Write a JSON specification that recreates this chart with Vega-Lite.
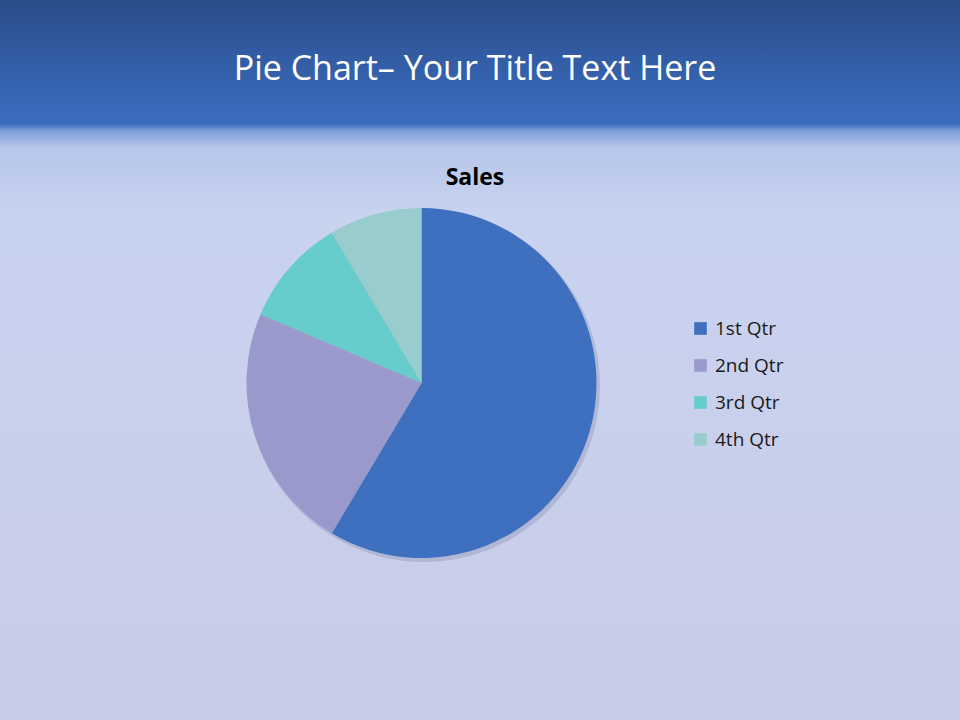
{
  "$schema": "https://vega.github.io/schema/vega-lite/v6.json",
  "width": 960,
  "height": 720,
  "autosize": "none",
  "padding": 0,
  "background": "#c8cde8",
  "title": {
    "text": "Pie Chart– Your Title Text Here",
    "subtitle": "Sales",
    "anchor": "middle",
    "orient": "top",
    "offset": -190,
    "dx": -5,
    "font": "Open Sans",
    "fontSize": 34,
    "fontWeight": "normal",
    "color": "#ffffff",
    "subtitleFont": "Open Sans",
    "subtitleFontSize": 23,
    "subtitleFontWeight": "bold",
    "subtitleColor": "#000000",
    "subtitlePadding": 80
  },
  "layer": [
    {
      "data": {"values": [{}]},
      "mark": {
        "type": "rect",
        "color": {
          "gradient": "linear",
          "x1": 0, "y1": 0, "x2": 0, "y2": 1,
          "stops": [
            {"offset": 0, "color": "#2a4d8a"},
            {"offset": 0.1, "color": "#3460aa"},
            {"offset": 0.172, "color": "#3c6cbf"},
            {"offset": 0.182, "color": "#7f9fd8"},
            {"offset": 0.205, "color": "#b6c6ea"},
            {"offset": 0.3, "color": "#c8d3f0"},
            {"offset": 0.6, "color": "#c9d0ec"},
            {"offset": 1, "color": "#c8cce6"}
          ]
        }
      },
      "encoding": {}
    },
    {
      "data": {
        "values": [
          {"Qtr": "1st Qtr", "Sales": 8.2},
          {"Qtr": "2nd Qtr", "Sales": 3.2},
          {"Qtr": "3rd Qtr", "Sales": 1.4},
          {"Qtr": "4th Qtr", "Sales": 1.2}
        ]
      },
      "layer": [
        {
          "mark": {"type": "arc", "x": 424, "y": 386, "radius": 176, "color": "#1a2a50", "opacity": 0.14},
          "encoding": {
            "theta": {"field": "Sales", "type": "quantitative", "stack": true}
          }
        },
        {
          "mark": {"type": "arc", "x": 421.5, "y": 383, "radius": 175, "strokeWidth": 0},
          "encoding": {
            "theta": {"field": "Sales", "type": "quantitative", "stack": true},
            "color": {
              "field": "Qtr",
              "type": "nominal",
              "sort": ["1st Qtr", "2nd Qtr", "3rd Qtr", "4th Qtr"],
              "scale": {
                "domain": ["1st Qtr", "2nd Qtr", "3rd Qtr", "4th Qtr"],
                "range": ["#3f6fbf", "#9999cc", "#66cccc", "#99cccc"]
              },
              "legend": {
                "title": null,
                "orient": "none",
                "legendX": 691,
                "legendY": 319,
                "symbolType": "square",
                "symbolSize": 160,
                "symbolStrokeWidth": 0,
                "labelFont": "Open Sans",
                "labelFontSize": 19,
                "labelColor": "#1a1a1a",
                "labelOffset": 5,
                "rowPadding": 17
              }
            },
            "order": {"field": "Qtr", "sort": "ascending"}
          }
        }
      ]
    }
  ],
  "config": {
    "view": {"stroke": null}
  }
}
